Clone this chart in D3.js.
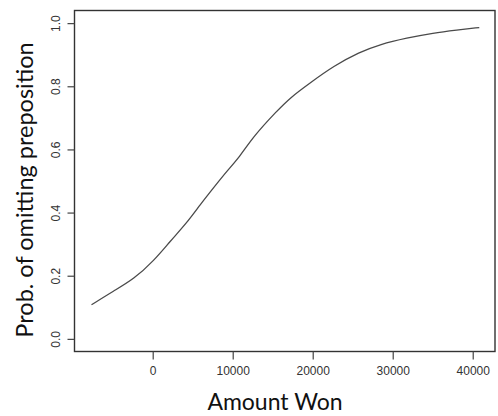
<!DOCTYPE html>
<html>
<head>
<meta charset="utf-8">
<script src="https://cdn.jsdelivr.net/npm/d3@7"></script>
<style>
  body { margin: 0; background: #fff; }
  svg { display: block; }
</style>
</head>
<body>
<svg id="chart" width="498" height="416"></svg>
<script>
// fitted curve
const amountWon = [-7650, -4870, -2370, 130, 2210, 4290, 5960, 7620, 9290, 10860,
  12610, 15530, 17190, 19690, 22600, 25840, 28430, 31760, 35080, 38000, 40820];
const probOmit = [0.108, 0.152, 0.189, 0.247, 0.310, 0.368, 0.426, 0.479, 0.532, 0.576,
  0.642, 0.722, 0.764, 0.811, 0.864, 0.908, 0.933, 0.953, 0.969, 0.978, 0.986];
const xTicks = [0, 10000, 20000, 30000, 40000];
const yTicks = [0, 0.2, 0.4, 0.6, 0.8, 1.0];

const box = {left: 74.5, top: 10.5, right: 495, bottom: 351.5};

const x = d3.scaleLinear().domain([-9775, 42785]).range([box.left, box.right]);
const y = d3.scaleLinear().domain([-0.04, 1.04]).range([box.bottom, box.top]);

const svg = d3.select('#chart');

svg.append('rect')
  .attr('x', box.left)
  .attr('y', box.top)
  .attr('width', box.right - box.left)
  .attr('height', box.bottom - box.top)
  .attr('fill', 'none')
  .attr('stroke', '#333')
  .attr('stroke-width', 1.4);

// axes, R style: no domain line, ticks outside the box
const xAxis = d3.axisBottom(x).tickValues(xTicks).tickSize(8).tickPadding(7)
  .tickFormat(d3.format('d'));
const yAxis = d3.axisLeft(y).tickValues(yTicks).tickSize(7).tickPadding(0)
  .tickFormat(d3.format('.1f'));

const xg = svg.append('g')
  .attr('transform', `translate(0, ${box.bottom})`)
  .call(xAxis);
const yg = svg.append('g')
  .attr('transform', `translate(${box.left}, 0)`)
  .call(yAxis);

[xg, yg].forEach(g => {
  g.select('.domain').remove();
  g.selectAll('line').attr('stroke', '#444').attr('stroke-width', 1.2);
  g.selectAll('text')
    .style('font-family', '"Liberation Sans", Arial, sans-serif')
    .style('font-size', '12px')
    .attr('fill', '#333');
});

// rotated y tick labels
yg.selectAll('text')
  .attr('x', null)
  .attr('dy', null)
  .attr('text-anchor', 'middle')
  .attr('transform', 'translate(-15, 0) rotate(-90)');

const line = d3.line()
  .x((d, i) => x(amountWon[i]))
  .y(d => y(d))
  .curve(d3.curveBasis);

svg.append('path')
  .datum(probOmit)
  .attr('d', line)
  .attr('fill', 'none')
  .attr('stroke', '#4a4a4a')
  .attr('stroke-width', 1.3);

svg.append('text')
  .attr('x', 275)
  .attr('y', 410)
  .attr('text-anchor', 'middle')
  .style('font-family', 'Lato, sans-serif')
  .style('font-size', '23px')
  .attr('fill', '#111')
  .text('Amount Won');

svg.append('text')
  .attr('transform', 'translate(33, 190) rotate(-90)')
  .attr('text-anchor', 'middle')
  .style('font-family', 'Lato, sans-serif')
  .style('font-size', '23.5px')
  .attr('fill', '#111')
  .text('Prob. of omitting preposition');
</script>
</body>
</html>
